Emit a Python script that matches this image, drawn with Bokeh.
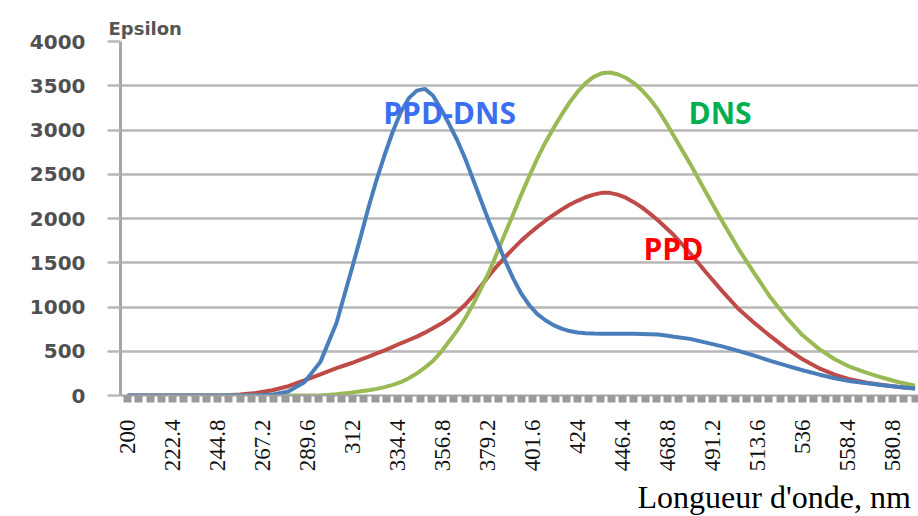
import math
from bokeh.plotting import figure
from bokeh.models import FixedTicker, NumeralTickFormatter, Label, Range1d, Title
from bokeh.embed import file_html
from bokeh.resources import INLINE

# Wavelength grid (nm)
wavelength = [200, 208, 216, 224, 232, 240, 248, 256, 264, 272, 280, 288, 296, 304, 312,
              316, 320, 324, 328, 332, 336, 340, 344, 348, 352, 356, 360, 364, 368, 372, 376,
              380, 384, 388, 392, 396, 400, 404, 408, 412, 416, 420, 424, 428, 432, 436, 440,
              444, 448, 452, 456, 460, 464, 468,
              472, 480, 488, 496, 504, 512, 520, 528, 536, 544, 552, 560, 568, 576, 584, 592]

ppd_dns = [0, 0, 0, 0, 0, 0, 0, 0, 0, 10, 45, 150, 380, 820, 1460,
           1790, 2130, 2440, 2720, 2980, 3200, 3360, 3445, 3465, 3390, 3240, 3070, 2890, 2680, 2440, 2200,
           1960, 1740, 1520, 1320, 1150, 1020, 920, 850, 795, 755, 728, 712, 704, 700, 699, 698,
           698, 698, 697, 695, 692, 688, 678,
           665, 640, 598, 555, 505, 450, 392, 338, 285, 238, 195, 160, 138, 115, 95, 80]

ppd = [0, 0, 0, 0, 0, 0, 0, 10, 28, 60, 105, 170, 240, 310, 370,
       405, 440, 475, 510, 550, 590, 627, 665, 710, 760, 810, 870, 940, 1025, 1125, 1240,
       1355, 1465, 1565, 1660, 1750, 1830, 1905, 1975, 2040, 2100, 2155, 2200, 2240, 2270, 2290, 2290,
       2270, 2235, 2185, 2125, 2055, 1980, 1895,
       1810, 1610, 1390, 1180, 980, 820, 670, 530, 410, 310, 235, 180, 145, 118, 95, 80]

dns = [0, 0, 0, 0, 0, 0, 0, 0, 0, 0, 0, 0, 0, 15, 35,
       47, 60, 75, 95, 120, 150, 195, 250, 315, 390, 490, 610, 730, 870, 1030, 1210,
       1400, 1615, 1835, 2050, 2270, 2480, 2680, 2860, 3020, 3170, 3310, 3430, 3530, 3600, 3640, 3650,
       3630, 3590, 3530, 3450, 3350, 3230, 3085,
       2930, 2620, 2290, 1970, 1660, 1380, 1110, 880, 680, 530, 410, 320, 255, 200, 150, 110]

x_ticks = [200, 222.4, 244.8, 267.2, 289.6, 312, 334.4, 356.8, 379.2, 401.6, 424, 446.4,
           468.8, 491.2, 513.6, 536, 558.4, 580.8]
y_ticks = [0, 500, 1000, 1500, 2000, 2500, 3000, 3500, 4000]

p = figure(width=918, height=516, output_backend="svg", toolbar_location=None,
           x_range=Range1d(196.5, 593.7), y_range=Range1d(0, 4000),
           min_border_left=120, min_border_top=41, min_border_bottom=120, min_border_right=0)
p.outline_line_color = None
p.background_fill_color = "white"

grey = "#a6a6a6"
# Grid
p.xgrid.grid_line_color = None
p.ygrid.grid_line_color = "#b8b8b8"
p.ygrid.grid_line_width = 2.5
p.ygrid.ticker = FixedTicker(ticks=y_ticks)

# Y axis
p.yaxis.ticker = FixedTicker(ticks=y_ticks)
p.yaxis.axis_line_color = grey
p.yaxis.axis_line_width = 3
p.yaxis.major_tick_line_color = "#b8b8b8"
p.yaxis.major_tick_line_width = 2.5
p.yaxis.major_tick_out = 13
p.yaxis.major_tick_in = 0
p.yaxis.minor_tick_line_color = None
p.yaxis.major_label_standoff = 22
p.yaxis.major_label_text_font = "DejaVu Sans"
p.yaxis.major_label_text_font_style = "bold"
p.yaxis.major_label_text_font_size = "20px"
p.yaxis.major_label_text_color = "#505050"

# X axis
minor = []
for t in x_ticks + [603.2]:
    for k in range(1, 4):
        minor.append(round(t - 22.4 + 5.6 * k, 2))
p.xaxis.ticker = FixedTicker(ticks=x_ticks, minor_ticks=minor)
p.xaxis.formatter = NumeralTickFormatter(format="0.[0]")
p.xaxis.axis_line_color = grey
p.xaxis.axis_line_width = 2
p.xaxis.major_tick_line_color = "#9a9a9a"
p.xaxis.major_tick_line_width = 8
p.xaxis.major_tick_out = 7
p.xaxis.major_tick_in = 0
p.xaxis.minor_tick_line_color = "#9a9a9a"
p.xaxis.minor_tick_line_width = 8
p.xaxis.minor_tick_out = 7
p.xaxis.minor_tick_in = 0
p.xaxis.major_label_orientation = math.pi / 2
p.xaxis.major_label_standoff = 17
p.xaxis.major_label_text_font = "Liberation Serif"
p.xaxis.major_label_text_font_size = "23px"
p.xaxis.major_label_text_color = "#111111"

# Curves
p.line(wavelength, ppd, line_color="#be4b48", line_width=4)
p.line(wavelength, dns, line_color="#98b954", line_width=4)
p.line(wavelength, ppd_dns, line_color="#4a7ebb", line_width=4)

# Annotations
p.add_layout(Label(x=360.3, y=3200, text="PPD-DNS", text_align="center", text_baseline="alphabetic",
                   text_font="Open Sans", text_font_style="bold", text_font_size="30px",
                   text_color="#3b6ff0"))
p.add_layout(Label(x=479.2, y=3200, text="DNS", text_align="left", text_baseline="alphabetic",
                   text_font="Open Sans", text_font_style="bold", text_font_size="30px",
                   text_color="#00b050"))
p.add_layout(Label(x=456.8, y=1665, text="PPD", text_align="left", text_baseline="alphabetic",
                   text_font="Open Sans", text_font_style="bold", text_font_size="30px",
                   text_color="#ff0000"))

# Axis captions
p.add_layout(Title(text="Epsilon", align="left", offset=-12, standoff=6,
                   text_font="DejaVu Sans", text_font_style="bold", text_font_size="18px",
                   text_color="#555555"), "above")
p.add_layout(Title(text="Longueur d'onde, nm", align="left", offset=517, standoff=4,
                   text_font="Liberation Serif", text_font_style="normal", text_font_size="32px",
                   text_color="#000000"), "below")

open("out.html", "w").write(file_html(p, INLINE))
